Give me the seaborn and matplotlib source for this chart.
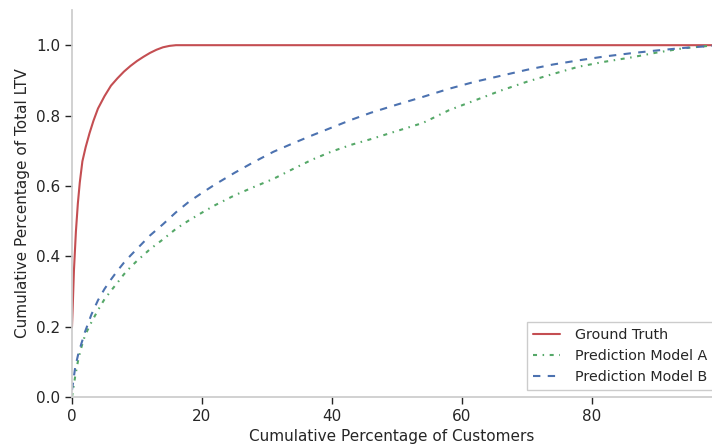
import matplotlib
matplotlib.use("Agg")
import pandas as pd
import seaborn as sns
from matplotlib import pyplot as plt

# cumulative share of customers (x, percent) vs cumulative share of LTV (y)
truth_x = [0, 0.1, 0.3, 0.6, 0.9, 1.2, 1.6, 2.1, 2.7, 3.3, 4.0, 5.0, 6.0, 7.0,
           8.0, 9.0, 10.0, 11.0, 12.0, 13.0, 14.0, 15.0, 16.0, 98.5]
truth_y = [0.20, 0.25, 0.36, 0.47, 0.55, 0.61, 0.67, 0.71, 0.75, 0.785, 0.82,
           0.855, 0.885, 0.906, 0.925, 0.941, 0.955, 0.967, 0.978, 0.987,
           0.994, 0.998, 1.0, 1.0]

model_x = [0, 0.5, 1, 1.5, 2, 3, 4, 5, 6, 7, 8, 9, 10, 12, 14, 16, 18, 20, 22,
           25, 28, 31, 34, 37, 40, 43, 46, 50, 54, 58, 62, 66, 70, 74, 78, 82,
           86, 90, 94, 98.5]
model_a_y = [0.0, 0.06, 0.11, 0.145, 0.175, 0.213, 0.247, 0.278, 0.302, 0.325,
             0.349, 0.369, 0.387, 0.420, 0.448, 0.478, 0.502, 0.524, 0.545,
             0.573, 0.597, 0.620, 0.648, 0.675, 0.698, 0.717, 0.733, 0.756,
             0.779, 0.815, 0.843, 0.871, 0.896, 0.918, 0.939, 0.953, 0.965,
             0.979, 0.991, 0.999]
model_b_y = [0.02, 0.085, 0.125, 0.155, 0.185, 0.235, 0.275, 0.307, 0.334,
             0.359, 0.382, 0.402, 0.421, 0.459, 0.491, 0.525, 0.555, 0.580,
             0.604, 0.637, 0.668, 0.697, 0.721, 0.744, 0.766, 0.788, 0.808,
             0.831, 0.853, 0.876, 0.896, 0.913, 0.930, 0.945, 0.957, 0.968,
             0.977, 0.985, 0.992, 0.998]

sns.set_theme(style="ticks", font_scale=1.0)
plt.rcParams["font.family"] = ["DejaVu Sans"]
plt.rcParams["lines.scale_dashes"] = False
plt.rcParams["axes.edgecolor"] = ".8"
plt.rcParams["xtick.color"] = ".15"
plt.rcParams["ytick.color"] = ".15"

red, green, blue = "#C44E52", "#55A868", "#4C72B0"

fig = plt.figure(figsize=(7.12, 4.46), dpi=100)
ax = fig.add_axes((72 / 712, 49 / 446, 640 / 712, 387 / 446))

truth = pd.DataFrame({"x": truth_x, "y": truth_y})
models = pd.DataFrame({"x": model_x, "a": model_a_y, "b": model_b_y})

sns.lineplot(data=truth, x="x", y="y", ax=ax, color=red, lw=1.5,
             label="Ground Truth")
sns.lineplot(data=models, x="x", y="a", ax=ax, color=green, lw=1.5,
             linestyle=(0, (2.9, 4.0, 1.1, 4.0)), label="Prediction Model A")
sns.lineplot(data=models, x="x", y="b", ax=ax, color=blue, lw=1.5,
             linestyle=(0, (5.3, 5.3)), label="Prediction Model B")

ax.set_xlim(0, 98.5)
ax.set_ylim(0, 1.1)
ax.set_xticks([0, 20, 40, 60, 80])
ax.set_yticks([0.0, 0.2, 0.4, 0.6, 0.8, 1.0])
ax.tick_params(labelsize=11, length=5, width=1, color=".15")
ax.set_xlabel("Cumulative Percentage of Customers", fontsize=11, color=".15")
ax.set_ylabel("Cumulative Percentage of Total LTV", fontsize=11, color=".15")
sns.despine(ax=ax)

leg = ax.legend(loc="lower right", bbox_to_anchor=(1.012, 0.0), fontsize=10.3,
                handlelength=1.9, handletextpad=1.0,
                frameon=True, fancybox=False, edgecolor=".8", framealpha=1)
leg.get_frame().set_linewidth(1.0)
for t in leg.get_texts():
    t.set_color(".15")

fig.savefig("out.png", dpi=100)
